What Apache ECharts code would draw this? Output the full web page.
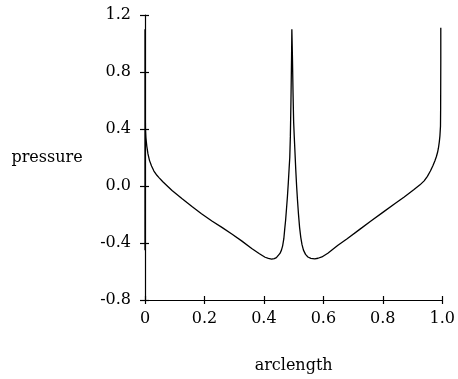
<!DOCTYPE html>
<html>
<head>
<meta charset="utf-8">
<script src="https://cdn.jsdelivr.net/npm/echarts@6/dist/echarts.min.js"></script>
<style>
html,body{margin:0;padding:0;background:#fff;}
#c{width:458px;height:379px;}
</style>
</head>
<body>
<div id="c"></div>
<script>
var arclength = [0, 0, 0.0005, 0.0015, 0.003, 0.006, 0.01, 0.015, 0.022, 0.03, 0.04, 0.047, 0.06, 0.075, 0.091, 0.125, 0.158, 0.19, 0.225, 0.26, 0.292, 0.325, 0.359, 0.385, 0.404, 0.415, 0.426, 0.435, 0.442, 0.448, 0.454, 0.459, 0.463, 0.467, 0.47, 0.473, 0.476, 0.479, 0.482, 0.485, 0.487, 0.489, 0.491, 0.493, 0.494, 0.496, 0.498, 0.5, 0.502, 0.504, 0.507, 0.51, 0.513, 0.516, 0.52, 0.524, 0.528, 0.533, 0.54, 0.548, 0.558, 0.571, 0.582, 0.595, 0.615, 0.649, 0.68, 0.72, 0.76, 0.8, 0.84, 0.872, 0.905, 0.925, 0.939, 0.95, 0.96, 0.968, 0.975, 0.98, 0.984, 0.987, 0.99, 0.992, 0.994, 0.9945, 0.995, 0.995];
var pressure  = [-0.45, 1.1, 0.6, 0.4, 0.34, 0.28, 0.225, 0.18, 0.14, 0.105, 0.075, 0.059, 0.03, 0.0, -0.032, -0.09, -0.144, -0.195, -0.246, -0.292, -0.337, -0.385, -0.438, -0.475, -0.5, -0.508, -0.513, -0.51, -0.503, -0.492, -0.473, -0.45, -0.42, -0.37, -0.303, -0.24, -0.16, -0.077, 0.02, 0.13, 0.2, 0.35, 0.6, 0.9, 1.1, 0.9, 0.65, 0.45, 0.35, 0.26, 0.12, 0.0, -0.1, -0.19, -0.29, -0.36, -0.41, -0.45, -0.48, -0.498, -0.508, -0.511, -0.507, -0.498, -0.472, -0.416, -0.37, -0.308, -0.246, -0.185, -0.125, -0.077, -0.025, 0.008, 0.036, 0.068, 0.105, 0.14, 0.175, 0.205, 0.235, 0.265, 0.31, 0.35, 0.42, 0.55, 0.875, 1.11];
var xTicks = [0, 0.2, 0.4, 0.6, 0.8, 1.0];
var yTicks = [-0.8, -0.4, 0.0, 0.4, 0.8, 1.2];
var xTitle = 'arclength';
var yTitle = 'pressure';

var font = 'DejaVu Serif';
var pts = arclength.map(function (s, i) { return [s, pressure[i]]; });
function fx(v) { if (Math.abs(v) < 1e-9) return '0'; return v.toFixed(1); }
function fy(v) { if (Math.abs(v) < 1e-9) return '0.0'; return v.toFixed(1); }

var chart = echarts.init(document.getElementById('c'));
var xBase = { type: 'value', min: xTicks[0], max: xTicks[xTicks.length - 1], interval: 0.2, position: 'bottom', splitLine: { show: false } };
var yBase = { type: 'value', min: yTicks[0], max: yTicks[yTicks.length - 1], interval: 0.4, position: 'left', splitLine: { show: false } };
chart.setOption({
  animation: false,
  backgroundColor: '#fff',
  grid: { left: 145, right: 13, top: 15, bottom: 69, containLabel: false },
  xAxis: [
    Object.assign({}, xBase, {
      name: xTitle, nameLocation: 'middle', nameGap: 58,
      nameTextStyle: { fontFamily: font, fontSize: 16, color: '#000' },
      axisLine: { show: true, onZero: false, lineStyle: { color: '#000', width: 1.2 } },
      axisTick: { show: true, inside: false, length: 4, lineStyle: { color: '#000', width: 1.2 } },
      axisLabel: { show: true, margin: 11, fontFamily: font, fontSize: 16, color: '#000', formatter: fx }
    }),
    Object.assign({}, xBase, {
      axisLine: { show: false, onZero: false },
      axisTick: { show: true, inside: true, length: 4, lineStyle: { color: '#000', width: 1.2 } },
      axisLabel: { show: false }
    })
  ],
  yAxis: [
    Object.assign({}, yBase, {
      name: yTitle, nameLocation: 'middle', nameRotate: 0, nameGap: 98,
      nameTextStyle: { fontFamily: font, fontSize: 16, color: '#000', align: 'center' },
      axisLine: { show: true, onZero: false, lineStyle: { color: '#000', width: 1.2 } },
      axisTick: { show: true, inside: false, length: 5, lineStyle: { color: '#000', width: 1.2 } },
      axisLabel: { show: true, margin: 14, fontFamily: font, fontSize: 16, color: '#000', formatter: fy }
    }),
    Object.assign({}, yBase, {
      axisLine: { show: false, onZero: false },
      axisTick: { show: true, inside: true, length: 4, lineStyle: { color: '#000', width: 1.2 } },
      axisLabel: { show: false }
    })
  ],
  series: [{
    type: 'line',
    data: pts,
    xAxisIndex: 0, yAxisIndex: 0,
    showSymbol: false,
    symbol: 'none',
    smooth: false,
    lineStyle: { color: '#000', width: 1.3 },
    z: 3
  }]
});
</script>
</body>
</html>
